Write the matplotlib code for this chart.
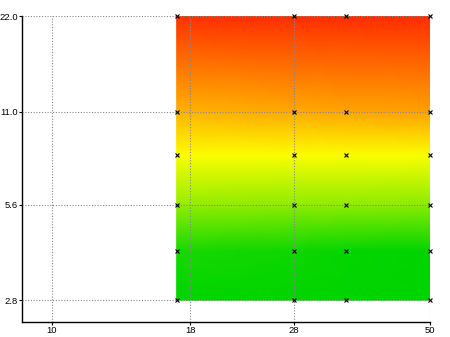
import numpy as np
import matplotlib
matplotlib.use("Agg")
import matplotlib.pyplot as plt
from matplotlib.colors import LinearSegmentedColormap

plt.rcParams['font.family'] = ['Liberation Sans', 'DejaVu Sans']

# grid nodes
xs = [17, 28, 35, 50]
ys = [2.8, 4.0, 5.6, 8.0, 11.0, 22.0]
# value at each node (rows = ys, cols = xs)
z = [
    [0.00, 0.00, -0.01, -0.02],
    [0.05, 0.03, 0.01, -0.01],
    [0.29, 0.28, 0.28, 0.27],
    [0.49, 0.49, 0.49, 0.49],
    [0.67, 0.69, 0.70, 0.71],
    [0.96, 0.97, 0.97, 0.97],
]

xticks = [10, 18, 28, 50]
yticks = [2.8, 5.6, 11.0, 22.0]
ytick_labels = ['2.8', '5.6', '11.0', '22.0']

cmap = LinearSegmentedColormap.from_list(
    'ryg', [(0.0, '#00d400'), (0.5, '#ffff00'), (1.0, '#ff2000')])

fig = plt.figure(figsize=(4.5, 3.37), dpi=100)
ax = fig.add_axes([22/450, 15/337, 408/450, 306/337])

X, Y = np.meshgrid(xs, ys)
ax.pcolormesh(X, Y, np.array(z), shading='gouraud', cmap=cmap, vmin=0, vmax=1, zorder=1)
ax.plot(X.ravel(), Y.ravel(), 'x', color='black', ms=2.2, mew=0.8, zorder=4, clip_on=False)

ax.set_xscale('log')
ax.set_yscale('log')
ax.set_xlim(8.8, 50)
ax.set_ylim(2.39, 22.0)

ax.xaxis.set_minor_locator(matplotlib.ticker.NullLocator())
ax.yaxis.set_minor_locator(matplotlib.ticker.NullLocator())
ax.set_xticks(xticks)
ax.set_xticklabels([str(t) for t in xticks])
ax.set_yticks(yticks)
ax.set_yticklabels(ytick_labels)
ax.tick_params(labelsize=6.8, length=2, width=0.8, pad=1, colors='black')

ax.grid(True, linestyle=(0, (1, 1.5)), color='#888888', linewidth=0.8, zorder=3)
ax.set_axisbelow(False)

for s in ['top', 'right']:
    ax.spines[s].set_visible(False)
for s in ['left', 'bottom']:
    ax.spines[s].set_linewidth(1.0)

fig.savefig('out.png', dpi=100)
